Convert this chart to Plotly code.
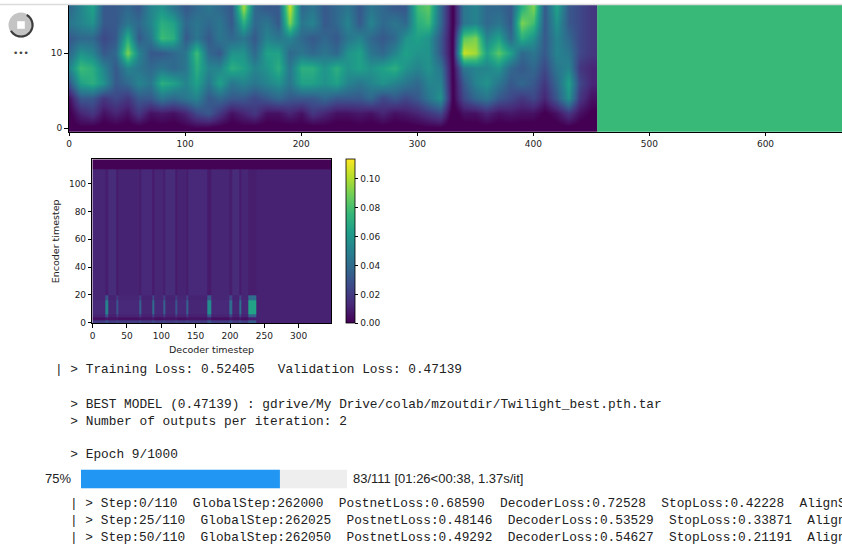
import math
import plotly.graph_objects as go

W, H = 842, 548


def px_x(p):
    return p / W


def px_y(p):
    return 1 - p / H


# ---- mel spectrogram (read coarsely: one column every 10 frames, one row every 2 bins)
spec_frames = list(range(0, 451, 10))
spec_bins = [0, 2, 4, 6, 8, 10, 12, 14, 16]
spec_rows = [
    [0.03, 0.05, 0.04, 0.03, 0.04, 0.03, 0.04, 0.03, 0.04, 0.03, 0.05, 0.06, 0.05, 0.04, 0.03, 0.04,
     0.03, 0.03, 0.04, 0.03, 0.04, 0.03, 0.04, 0.03, 0.03, 0.04, 0.03, 0.04, 0.03, 0.03, 0.04, 0.05,
     0.05, 0.01, 0.03, 0.03, 0.04, 0.03, 0.03, 0.03, 0.03, 0.02, 0.03, 0.04, 0.03, 0.02],
    [0.05, 0.15, 0.2, 0.1, 0.15, 0.1, 0.2, 0.1, 0.12, 0.1, 0.15, 0.25, 0.3, 0.2, 0.1, 0.15,
     0.2, 0.1, 0.1, 0.15, 0.1, 0.2, 0.15, 0.1, 0.1, 0.12, 0.1, 0.15, 0.1, 0.12, 0.15, 0.2,
     0.25, 0.02, 0.1, 0.1, 0.15, 0.1, 0.12, 0.1, 0.1, 0.05, 0.1, 0.2, 0.1, 0.05],
    [0.1, 0.3, 0.3, 0.2, 0.25, 0.2, 0.3, 0.3, 0.4, 0.35, 0.4, 0.45, 0.3, 0.35, 0.3, 0.3,
     0.25, 0.3, 0.35, 0.3, 0.3, 0.3, 0.35, 0.3, 0.3, 0.3, 0.35, 0.25, 0.3, 0.25, 0.3, 0.4,
     0.5, 0.05, 0.25, 0.35, 0.4, 0.3, 0.25, 0.2, 0.25, 0.15, 0.3, 0.5, 0.2, 0.1],
    [0.3, 0.55, 0.6, 0.5, 0.3, 0.35, 0.45, 0.4, 0.6, 0.55, 0.45, 0.55, 0.4, 0.55, 0.4, 0.45,
     0.4, 0.45, 0.5, 0.4, 0.55, 0.55, 0.5, 0.55, 0.45, 0.4, 0.45, 0.5, 0.45, 0.4, 0.35, 0.45,
     0.45, 0.05, 0.3, 0.45, 0.5, 0.4, 0.3, 0.35, 0.3, 0.2, 0.35, 0.55, 0.25, 0.15],
    [0.45, 0.65, 0.6, 0.45, 0.3, 0.45, 0.4, 0.35, 0.4, 0.35, 0.4, 0.6, 0.45, 0.45, 0.6, 0.55,
     0.45, 0.5, 0.6, 0.4, 0.6, 0.6, 0.5, 0.6, 0.5, 0.55, 0.5, 0.55, 0.6, 0.5, 0.45, 0.5,
     0.4, 0.05, 0.4, 0.45, 0.45, 0.5, 0.35, 0.3, 0.35, 0.25, 0.4, 0.45, 0.2, 0.15],
    [0.35, 0.5, 0.45, 0.3, 0.35, 0.75, 0.45, 0.3, 0.3, 0.35, 0.4, 0.65, 0.35, 0.3, 0.5, 0.5,
     0.35, 0.55, 0.55, 0.35, 0.4, 0.35, 0.4, 0.35, 0.5, 0.55, 0.4, 0.35, 0.45, 0.55, 0.5, 0.5,
     0.3, 0.05, 0.85, 0.8, 0.55, 0.7, 0.55, 0.35, 0.4, 0.3, 0.45, 0.4, 0.25, 0.2],
    [0.3, 0.35, 0.35, 0.25, 0.3, 0.6, 0.3, 0.4, 0.65, 0.6, 0.3, 0.4, 0.3, 0.4, 0.35, 0.4,
     0.3, 0.45, 0.4, 0.45, 0.35, 0.3, 0.35, 0.3, 0.4, 0.45, 0.35, 0.3, 0.35, 0.5, 0.55, 0.5,
     0.3, 0.05, 0.7, 0.75, 0.45, 0.55, 0.35, 0.6, 0.5, 0.3, 0.45, 0.35, 0.25, 0.2],
    [0.4, 0.45, 0.5, 0.3, 0.3, 0.4, 0.35, 0.45, 0.6, 0.55, 0.35, 0.4, 0.35, 0.4, 0.3, 0.6,
     0.35, 0.4, 0.3, 0.75, 0.4, 0.45, 0.3, 0.35, 0.45, 0.3, 0.45, 0.35, 0.4, 0.35, 0.6, 0.65,
     0.35, 0.05, 0.4, 0.45, 0.35, 0.4, 0.3, 0.75, 0.65, 0.3, 0.5, 0.3, 0.25, 0.2],
    [0.35, 0.45, 0.55, 0.3, 0.3, 0.35, 0.3, 0.45, 0.5, 0.4, 0.3, 0.35, 0.4, 0.35, 0.3, 0.8,
     0.35, 0.3, 0.3, 0.85, 0.35, 0.4, 0.3, 0.35, 0.4, 0.3, 0.4, 0.35, 0.3, 0.3, 0.65, 0.7,
     0.35, 0.05, 0.4, 0.45, 0.35, 0.35, 0.3, 0.6, 0.75, 0.3, 0.55, 0.3, 0.25, 0.2],
]
spec_pad_level = 0.64
spec_pad_edges = [455, 689.5]
spec_xticks = [0, 100, 200, 300, 400, 500, 600]
spec_yticks = [0, 10]

# ---- attention alignment (decoder x encoder)
att_x_edges = [-0.5, 18, 23, 35, 38, 68, 71, 87, 90, 103, 106, 120, 123, 137, 140, 167, 173,
               199, 203, 213, 217, 226, 238, 347.5]
att_y_edges = [-0.5, 2, 4, 6, 16, 20, 110, 117.5]
att_z = [
    [0.02, 0.028, 0.019, 0.024, 0.02, 0.024, 0.019, 0.026, 0.02, 0.024, 0.019, 0.023,
     0.02, 0.024, 0.019, 0.03, 0.02, 0.026, 0.019, 0.026, 0.02, 0.032, 0.0105],
    [0.005, 0.008, 0.006, 0.007, 0.005, 0.007, 0.006, 0.008, 0.005, 0.007, 0.006, 0.007,
     0.005, 0.007, 0.006, 0.009, 0.005, 0.008, 0.006, 0.008, 0.005, 0.01, 0.0105],
    [0.011, 0.028, 0.010, 0.018, 0.011, 0.02, 0.010, 0.022, 0.011, 0.02, 0.010, 0.018,
     0.011, 0.02, 0.010, 0.03, 0.011, 0.022, 0.010, 0.022, 0.011, 0.035, 0.0105],
    [0.013, 0.050, 0.012, 0.030, 0.013, 0.035, 0.012, 0.040, 0.013, 0.035, 0.012, 0.030,
     0.013, 0.035, 0.012, 0.055, 0.013, 0.040, 0.012, 0.042, 0.013, 0.065, 0.0105],
    [0.012, 0.03, 0.011, 0.02, 0.012, 0.022, 0.011, 0.025, 0.012, 0.022, 0.011, 0.02,
     0.012, 0.022, 0.011, 0.032, 0.012, 0.025, 0.011, 0.025, 0.012, 0.04, 0.0105],
    [0.012, 0.009, 0.014, 0.008, 0.011, 0.009, 0.013, 0.008, 0.012, 0.009, 0.014, 0.008,
     0.011, 0.009, 0.013, 0.008, 0.012, 0.009, 0.014, 0.008, 0.012, 0.009, 0.0105],
    [0.0005, 0.0005, 0.0005, 0.0005, 0.0005, 0.0005, 0.0005, 0.0005, 0.0005, 0.0005, 0.0005,
     0.0005, 0.0005, 0.0005, 0.0005, 0.0005, 0.0005, 0.0005, 0.0005, 0.0005, 0.0005, 0.0005, 0.0005],
]
att_zmax = 0.1135
att_xticks = [0, 50, 100, 150, 200, 250, 300]
att_yticks = [0, 20, 40, 60, 80, 100]
att_cbar_ticks = [0.0, 0.02, 0.04, 0.06, 0.08, 0.10]

# ---- log output
train_loss = 0.52405
val_loss = 0.47139
best_path = "gdrive/My Drive/colab/mzoutdir/Twilight_best.pth.tar"
outputs_per_iter = 2
epoch, n_epochs = 9, 1000
progress_done, progress_total = 83, 111
progress_timing = "[01:26<00:38, 1.37s/it]"
step_ids = ["0/110", "25/110", "50/110"]
global_steps = [262000, 262025, 262050]
postnet_losses = [0.68590, 0.48146, 0.49292]
decoder_losses = [0.72528, 0.53529, 0.54627]
stop_losses = [0.42228, 0.33871, 0.21191]
align_tail = ["AlignS", "Align", "Align"]  # cut by the output cell edge

TICK_FONT = dict(family="DejaVu Sans", size=9, color="#222")
MONO = dict(family="Liberation Mono", size=12.8, color="#212121")

fig = go.Figure()

# spectrogram
fig.add_trace(go.Heatmap(
    x=spec_frames, y=spec_bins, z=spec_rows,
    colorscale="Viridis", zmin=0.06, zmax=0.92, zsmooth="best",
    showscale=False, hoverinfo="skip", xaxis="x", yaxis="y"))
fig.add_trace(go.Heatmap(
    x=spec_pad_edges, y=[-1, 17], z=[[spec_pad_level]],
    colorscale="Viridis", zmin=0.06, zmax=0.92,
    showscale=False, hoverinfo="skip", xaxis="x", yaxis="y"))

# attention
fig.add_trace(go.Heatmap(
    x=att_x_edges, y=att_y_edges, z=att_z,
    colorscale="Viridis", zmin=0, zmax=att_zmax, hoverinfo="skip",
    xaxis="x2", yaxis="y2",
    colorbar=dict(
        x=px_x(346), xanchor="left", xpad=0,
        y=px_y(323.3), yanchor="bottom", ypad=0,
        len=(323.3 - 159.3) / H, lenmode="fraction", thickness=9,
        outlinewidth=0.8, outlinecolor="#000",
        tickvals=att_cbar_ticks, tickformat=".2f",
        ticks="outside", ticklen=3.5, tickwidth=0.8, tickcolor="#000",
        tickfont=TICK_FONT)))

# progress bar
fig.add_trace(go.Bar(
    x=[progress_total], y=[0], orientation="h", width=1,
    marker=dict(color="#eeeeee", line=dict(width=0)),
    hoverinfo="skip", xaxis="x3", yaxis="y3"))
fig.add_trace(go.Bar(
    x=[progress_done], y=[0], orientation="h", width=1,
    marker=dict(color="#2196f3", line=dict(width=0)),
    hoverinfo="skip", xaxis="x3", yaxis="y3"))

axis_common = dict(showgrid=False, zeroline=False, ticks="outside", ticklen=3.5,
                   tickwidth=0.8, tickcolor="#000", showline=True, linecolor="#000",
                   linewidth=0.8, tickfont=TICK_FONT)

fig.update_layout(
    width=W, height=H,
    margin=dict(l=0, r=0, t=0, b=0, autoexpand=False),
    paper_bgcolor="white", plot_bgcolor="white",
    showlegend=False, barmode="overlay",
    xaxis=dict(axis_common, domain=[px_x(68.5), 1], range=[-0.5, 665.9],
               tickvals=spec_xticks, anchor="y"),
    yaxis=dict(axis_common, domain=[px_y(131.75), px_y(5)], range=[-0.5, 16.4],
               tickvals=spec_yticks, anchor="x"),
    xaxis2=dict(axis_common, domain=[px_x(92.3), px_x(331.3)], range=[-0.5, 347.5],
                tickvals=att_xticks, mirror=True, anchor="y2"),
    yaxis2=dict(axis_common, domain=[px_y(323.3), px_y(159.3)], range=[-0.5, 117.5],
                tickvals=att_yticks, mirror=True, anchor="x2"),
    xaxis3=dict(domain=[px_x(81), px_x(347)], range=[0, progress_total], visible=False,
                anchor="y3"),
    yaxis3=dict(domain=[px_y(488.5), px_y(469.5)], range=[-0.5, 0.5], visible=False,
                anchor="x3"),
)

annotations = []


def add_text(x, y, text, font, xanchor="left", angle=0):
    annotations.append(dict(
        x=px_x(x), y=px_y(y), xref="paper", yref="paper", text=text.replace(" ", "\u00a0"),
        showarrow=False, xanchor=xanchor, yanchor="middle", font=font, textangle=angle))


LABEL_FONT = dict(family="DejaVu Sans", size=9.5, color="#222")
add_text(55, 241.3, "Encoder timestep", LABEL_FONT, xanchor="center", angle=-90)
add_text(211.8, 349.3, "Decoder timestep", LABEL_FONT, xanchor="center")

add_text(53, 369, f"| > Training Loss: {train_loss:.5f}   Validation Loss: {val_loss:.5f}", MONO)
add_text(53, 404, f"  > BEST MODEL ({val_loss:.5f}) : {best_path}", MONO)
add_text(53, 421, f"  > Number of outputs per iteration: {outputs_per_iter}", MONO)
add_text(53, 454, f"  > Epoch {epoch}/{n_epochs}", MONO)

SANS = dict(family="Liberation Sans", size=13, color="#212121")
pct = round(100 * progress_done / progress_total)
add_text(72.5, 478.5, f"{pct}%", SANS, xanchor="right")
add_text(351, 478.5, f"{progress_done}/{progress_total} {progress_timing}", SANS)

for i, y in enumerate([503.5, 520.5, 537.5]):
    line = (f"| > Step:{step_ids[i]}  GlobalStep:{global_steps[i]}  "
            f"PostnetLoss:{postnet_losses[i]:.5f}  DecoderLoss:{decoder_losses[i]:.5f}  "
            f"StopLoss:{stop_losses[i]:.5f}  {align_tail[i]}")
    add_text(68, y, line, MONO)

# colab cell run indicator
add_text(20.5, 52.5, "\u2022\u2022\u2022", dict(family="DejaVu Sans", size=9, color="#444"),
         xanchor="center")
fig.update_layout(annotations=annotations)

cx, cy, r = 21, 25, 12.5
arc = []
for k in range(0, 43):
    a = math.radians(-60 + 5 * k)
    arc.append((px_x(cx + (r - 1) * math.cos(a)), px_y(cy + (r - 1) * math.sin(a))))
arc_path = "M " + " L ".join(f"{ax:.5f},{ay:.5f}" for ax, ay in arc)

fig.update_layout(shapes=[
    dict(type="line", xref="paper", yref="paper", x0=0, x1=1, y0=px_y(4.5), y1=px_y(4.5),
         line=dict(color="#dcdcdc", width=1.5), layer="above"),
    dict(type="circle", xref="paper", yref="paper", x0=px_x(cx - r), x1=px_x(cx + r),
         y0=px_y(cy + r), y1=px_y(cy - r), fillcolor="#c4c4c4", line=dict(width=0)),
    dict(type="rect", xref="paper", yref="paper", x0=px_x(cx - 3.8), x1=px_x(cx + 3.8),
         y0=px_y(cy + 3.8), y1=px_y(cy - 3.8), fillcolor="white", line=dict(width=0)),
    dict(type="path", xref="paper", yref="paper", path=arc_path,
         line=dict(color="#3c3c3c", width=2.2)),
])

# the page body has a default 8px margin; drop it so the figure fills the window
fig.write_html("out.html", config={"displayModeBar": False},
               post_script="document.body.style.margin='0px';")
